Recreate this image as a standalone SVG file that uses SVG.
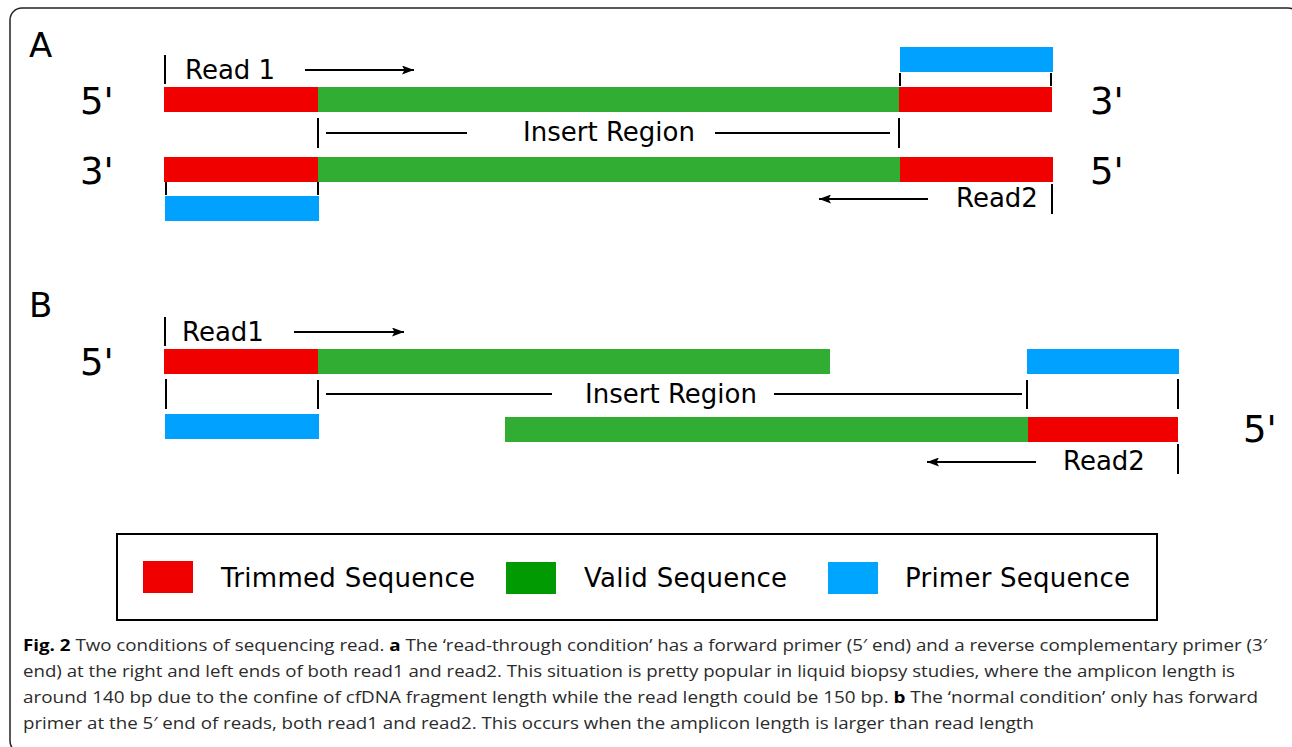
<svg xmlns="http://www.w3.org/2000/svg" width="1292" height="747" viewBox="0 0 1292 747">
<defs>
<marker id="ah" viewBox="0 0 12 9" refX="12" refY="4.5" markerWidth="12" markerHeight="9" markerUnits="userSpaceOnUse" orient="auto">
<path d="M0,0 L12,4.5 L0,9 L2.5,4.5 Z" fill="#000"/>
</marker>
<style>
.r{fill:#f10000}.g{fill:#32ad34}.b{fill:#00a1ff}
.t{stroke:#000;stroke-width:2;fill:none}
.ln{stroke:#000;stroke-width:2;fill:none}
.arr{stroke:#000;stroke-width:2;fill:none;marker-end:url(#ah)}
.lab{font-family:"DejaVu Sans",sans-serif;font-size:26px;fill:#000}
.end{font-family:"DejaVu Sans",sans-serif;font-size:37px;fill:#000}
.pan{font-family:"DejaVu Sans",sans-serif;font-size:34px;fill:#000}
.cap{font-family:"Open Sans","Liberation Sans",sans-serif;font-size:16px;fill:#2b2b2b}
.bold{font-weight:bold;fill:#000}
</style>
</defs>
<rect x="10" y="8" width="1290" height="745" rx="12" fill="#fff" stroke="#222" stroke-width="1.5"/>

<g id="panelA">
<text class="pan" x="29" y="57">A</text>
<text class="end" x="80" y="114">5'</text>
<text class="end" x="1090" y="114">3'</text>
<text class="end" x="80" y="184">3'</text>
<text class="end" x="1090" y="184">5'</text>
<g id="A-top-strand">
<rect class="r" x="164" y="87" width="154" height="25"/>
<rect class="g" x="318" y="87" width="581" height="25"/>
<rect class="r" x="899" y="87" width="153" height="25"/>
</g>
<g id="A-bottom-strand">
<rect class="r" x="164" y="157" width="154" height="25"/>
<rect class="g" x="318" y="157" width="582" height="25"/>
<rect class="r" x="900" y="157" width="153" height="25"/>
</g>
<rect id="A-primer-right" class="b" x="900" y="47" width="153" height="25"/>
<rect id="A-primer-left" class="b" x="165" y="196" width="154" height="25"/>
<g id="A-read1">
<text class="lab" x="185" y="79">Read 1</text>
</g>
<g id="A-insert">
<text class="lab" x="609" y="141" text-anchor="middle">Insert Region</text>
</g>
<g id="A-read2">
<text class="lab" x="956" y="207">Read2</text>
</g>
</g>

<g id="panelB">
<text class="pan" x="29" y="317">B</text>
<text class="end" x="80" y="375">5'</text>
<text class="end" x="1243" y="442">5'</text>
<g id="B-read1-strand">
<rect class="r" x="164" y="349" width="154" height="25"/>
<rect class="g" x="318" y="349" width="512" height="25"/>
</g>
<g id="B-read2-strand">
<rect class="g" x="505" y="417" width="523" height="25"/>
<rect class="r" x="1028" y="417" width="150" height="25"/>
</g>
<rect id="B-primer-right" class="b" x="1027" y="349" width="152" height="25"/>
<rect id="B-primer-left" class="b" x="165" y="414" width="154" height="25"/>
<g id="B-read1"><text class="lab" x="182" y="341">Read1</text></g>
<g id="B-insert"><text class="lab" x="671" y="403" text-anchor="middle">Insert Region</text></g>
<g id="B-read2"><text class="lab" x="1063" y="470">Read2</text></g>
</g>

<g id="connectors">
<line class="t" x1="165" y1="55" x2="165" y2="84"/>
<line class="arr" x1="305" y1="70" x2="414" y2="70"/>
<line class="t" x1="900" y1="73" x2="900" y2="86" stroke-width="1.5"/>
<line class="t" x1="1051" y1="73" x2="1051" y2="86" stroke-width="1.5"/>
<line class="t" x1="318" y1="118" x2="318" y2="148"/>
<line class="ln" x1="326" y1="133" x2="467" y2="133"/>
<line class="ln" x1="715" y1="133" x2="890" y2="133"/>
<line class="t" x1="899" y1="118" x2="899" y2="148"/>
<line class="t" x1="166" y1="182" x2="166" y2="195" stroke-width="1.5"/>
<line class="t" x1="318" y1="182" x2="318" y2="195" stroke-width="1.5"/>
<line class="arr" x1="928" y1="199" x2="819" y2="199"/>
<line class="t" x1="1052" y1="184" x2="1052" y2="214"/>
<line class="t" x1="165" y1="317" x2="165" y2="346"/>
<line class="arr" x1="294" y1="332" x2="404" y2="332"/>
<line class="t" x1="166" y1="379" x2="166" y2="409"/>
<line class="t" x1="318" y1="380" x2="318" y2="409"/>
<line class="ln" x1="326" y1="394" x2="552" y2="394"/>
<line class="ln" x1="774" y1="394" x2="1022" y2="394"/>
<line class="t" x1="1027" y1="380" x2="1027" y2="409"/>
<line class="t" x1="1178" y1="379" x2="1178" y2="409"/>
<line class="arr" x1="1036" y1="462" x2="927" y2="462"/>
<line class="t" x1="1178" y1="444" x2="1178" y2="474"/>
</g>

<g id="legend">
<rect x="117" y="534" width="1040" height="86" fill="#fff" stroke="#000" stroke-width="2"/>
<rect x="143" y="561" width="50" height="32" fill="#f10000"/>
<text class="lab" x="221" y="587" textLength="254">Trimmed Sequence</text>
<rect x="506" y="562" width="50" height="32" fill="#029a02"/>
<text class="lab" x="584" y="587" textLength="203">Valid Sequence</text>
<rect x="828" y="562" width="50" height="32" fill="#00a5ff"/>
<text class="lab" x="905" y="587" textLength="225">Primer Sequence</text>
</g>

<g id="caption">
<text class="cap" x="23" y="651" textLength="1244" lengthAdjust="spacingAndGlyphs"><tspan class="bold">Fig. 2</tspan> Two conditions of sequencing read. <tspan class="bold">a</tspan> The ‘read-through condition’ has a forward primer (5′ end) and a reverse complementary primer (3′</text>
<text class="cap" x="23" y="677" textLength="1212" lengthAdjust="spacingAndGlyphs">end) at the right and left ends of both read1 and read2. This situation is pretty popular in liquid biopsy studies, where the amplicon length is</text>
<text class="cap" x="23" y="703" textLength="1235" lengthAdjust="spacingAndGlyphs">around 140 bp due to the confine of cfDNA fragment length while the read length could be 150 bp. <tspan class="bold">b</tspan> The ‘normal condition’ only has forward</text>
<text class="cap" x="23" y="729" textLength="1011" lengthAdjust="spacingAndGlyphs">primer at the 5′ end of reads, both read1 and read2. This occurs when the amplicon length is larger than read length</text>
</g>
</svg>
